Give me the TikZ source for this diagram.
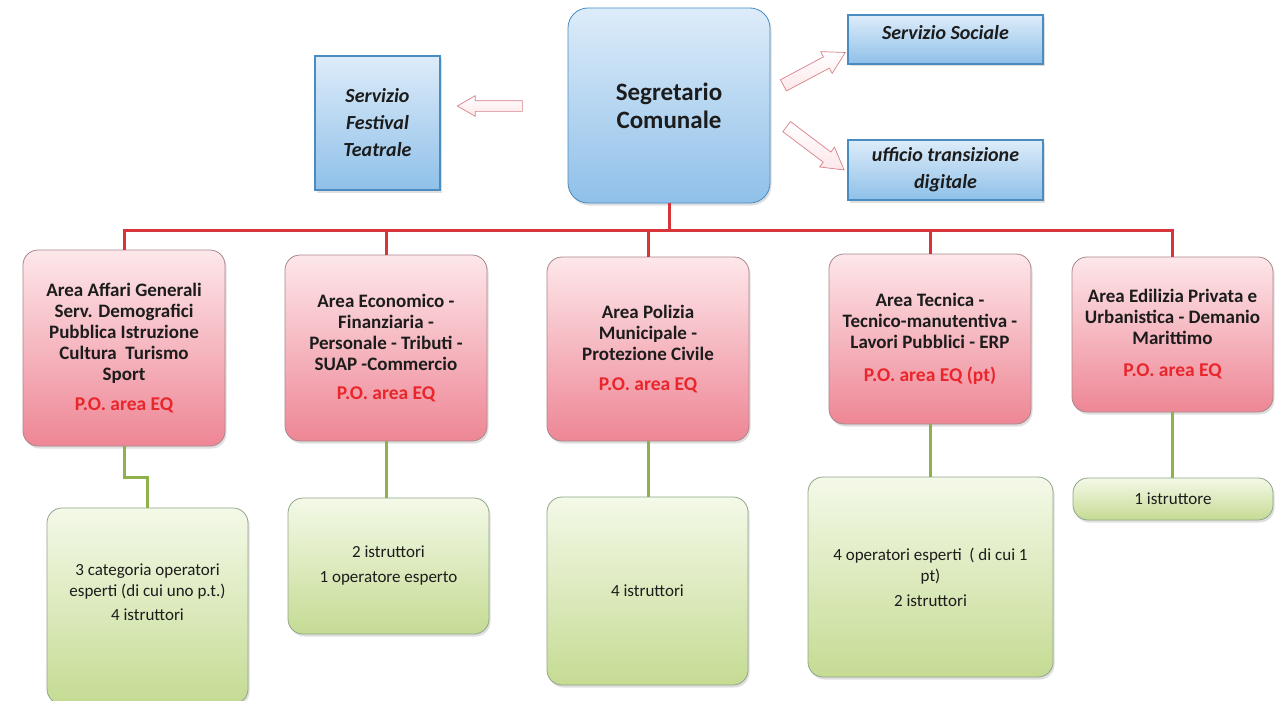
\documentclass[tikz,border=0pt]{standalone}
\usepackage{fontspec}
\setmainfont{Carlito}
\usetikzlibrary{shapes.arrows,shadows}
\definecolor{blueTop}{HTML}{DDECF9}
\definecolor{blueBot}{HTML}{8FC0E9}
\definecolor{blueEdge}{HTML}{4A8CC0}
\definecolor{pinkTop}{HTML}{FDE7EA}
\definecolor{pinkBot}{HTML}{EE8695}
\definecolor{pinkEdge}{HTML}{A8878C}
\definecolor{greenTop}{HTML}{F4F9E8}
\definecolor{greenBot}{HTML}{C5DB93}
\definecolor{greenEdge}{HTML}{8FA68A}
\definecolor{busRed}{HTML}{D8353A}
\definecolor{linkGreen}{HTML}{8DB24A}
\definecolor{poRed}{HTML}{E8262B}
\definecolor{arrowEdge}{HTML}{D98088}
\definecolor{txt}{HTML}{1C1C1C}
\tikzset{
  shad/.style={drop shadow={opacity=0.25, shadow xshift=1.5pt, shadow yshift=-2.5pt}},
  segbox/.style={shad, draw=blueEdge, line width=0.8pt, rounded corners=20pt, top color=blueTop, bottom color=blueBot,
    align=center, text=txt, font=\fontsize{25}{28}\selectfont\bfseries},
  sidebox/.style={shad, draw=blueEdge, line width=1.2pt, top color=blueTop, bottom color=blueBot,
    align=center, text=txt, font=\fontsize{20}{27}\selectfont\bfseries\itshape},
  areabox/.style={shad, draw=pinkEdge, line width=0.8pt, rounded corners=15pt, top color=pinkTop, bottom color=pinkBot,
    align=center, text=txt, font=\fontsize{19}{21}\selectfont\bfseries, minimum width=202pt},
  staffbox/.style={shad, draw=greenEdge, line width=0.8pt, rounded corners=15pt, top color=greenTop, bottom color=greenBot,
    align=center, text=txt, font=\fontsize{17}{21}\selectfont},
  stafftext/.style={align=center, text=txt, font=\fontsize{17}{21}\selectfont},
  harrow/.style={single arrow, draw=arrowEdge, line width=0.7pt, top color=white, bottom color=pinkTop,
    inner sep=5pt, single arrow head extend=5pt, single arrow tip angle=60, minimum height=#1},
  busline/.style={busRed, line width=3pt},
  linkline/.style={linkGreen, line width=3pt}
}
\newcommand{\PO}[1]{{\color{poRed}\fontsize{19.5}{21}\selectfont #1}}
\begin{document}
\begin{tikzpicture}[x=1pt,y=-1pt]
\useasboundingbox (0,0) rectangle (1275,701);
\fill[white] (0,0) rectangle (1275,701);

% top level
\node[segbox, minimum width=202pt, minimum height=195pt] (seg) at (669,105.5) {Segretario\\Comunale};
\node[sidebox, minimum width=125pt, minimum height=134pt] (fest) at (377.5,123) {Servizio\\Festival\\Teatrale};
\node[sidebox, minimum width=195pt, minimum height=49pt] (soc) at (945.5,39.5) {};
\node[font=\fontsize{20}{27}\selectfont\bfseries\itshape, text=txt] (soct) at (945.5,33) {Servizio Sociale};
\node[sidebox, minimum width=195pt, minimum height=60pt] (utd) at (945.5,170) {ufficio transizione\\digitale};

% hollow arrows
\node[harrow=65pt, shape border rotate=180] (arL) at (494.5,106) {};
\node[harrow=70pt, rotate=28, inner sep=6pt, single arrow head extend=6pt] (arU) at (809.5,71.5) {};
\node[harrow=72pt, rotate=-37, inner sep=6pt, single arrow head extend=6pt] (arD) at (811,145) {};

% areas
\node[areabox, minimum height=196pt] (a1) at (124,348) {Area Affari Generali\\Serv. Demografici\\Pubblica Istruzione\\Cultura~ Turismo\\Sport\\[9pt]\PO{P.O. area EQ}};
\node[areabox, minimum height=186pt] (a2) at (386,348) {Area Economico -\\Finanziaria -\\Personale - Tributi -\\SUAP -Commercio\\[8pt]\PO{P.O. area EQ}};
\node[areabox, minimum height=184pt] (a3) at (648,349) {Area Polizia\\Municipale -\\Protezione Civile\\[9pt]\PO{P.O. area EQ}};
\node[areabox, minimum height=170pt] (a4) at (930,339) {Area Tecnica -\\Tecnico-manutentiva -\\Lavori Pubblici - ERP\\[12pt]\PO{P.O. area EQ (pt)}};
\node[areabox, minimum width=201pt, minimum height=155pt] (a5) at (1172.5,334.5) {Area Edilizia Privata e\\Urbanistica - Demanio\\Marittimo\\[11pt]\PO{P.O. area EQ}};

% staff
\node[staffbox, minimum width=201pt, minimum height=196pt] (g1) at (147.5,606) {};
\node[stafftext] (g1t) at (147.5,592) {3 categoria operatori\\esperti (di cui uno p.t.)\\[3pt]4 istruttori};
\node[staffbox, minimum width=201pt, minimum height=136pt] (g2) at (388.5,566) {2 istruttori\\[4pt]1 operatore esperto};
\node[staffbox, minimum width=201pt, minimum height=188pt] (g3) at (647.5,591) {4 istruttori};
\node[staffbox, minimum width=245pt, minimum height=200pt] (g4) at (930.5,577) {4 operatori esperti~ ( di cui 1\\pt)\\[4pt]2 istruttori};
\node[staffbox, minimum width=200pt, minimum height=42pt] (g5) at (1173,499) {1 istruttore};

% red bus
\coordinate (bus) at (669,230);
\draw[busline] (seg.south) -- (seg.south |- bus);
\draw[busline] (a1.north) -- (a1.north |- bus) -- (a5.north |- bus) -- (a5.north);
\draw[busline] (a2.north) -- (a2.north |- bus);
\draw[busline] (a3.north) -- (a3.north |- bus);
\draw[busline] (a4.north) -- (a4.north |- bus);

% green links
\draw[linkline] (a1.south) -- ++(0,31) -| (g1.north);
\draw[linkline] (a2.south) -- (a2.south |- g2.north);
\draw[linkline] (a3.south) -- (a3.south |- g3.north);
\draw[linkline] (a4.south) -- (a4.south |- g4.north);
\draw[linkline] (a5.south) -- (a5.south |- g5.north);
\end{tikzpicture}
\end{document}
